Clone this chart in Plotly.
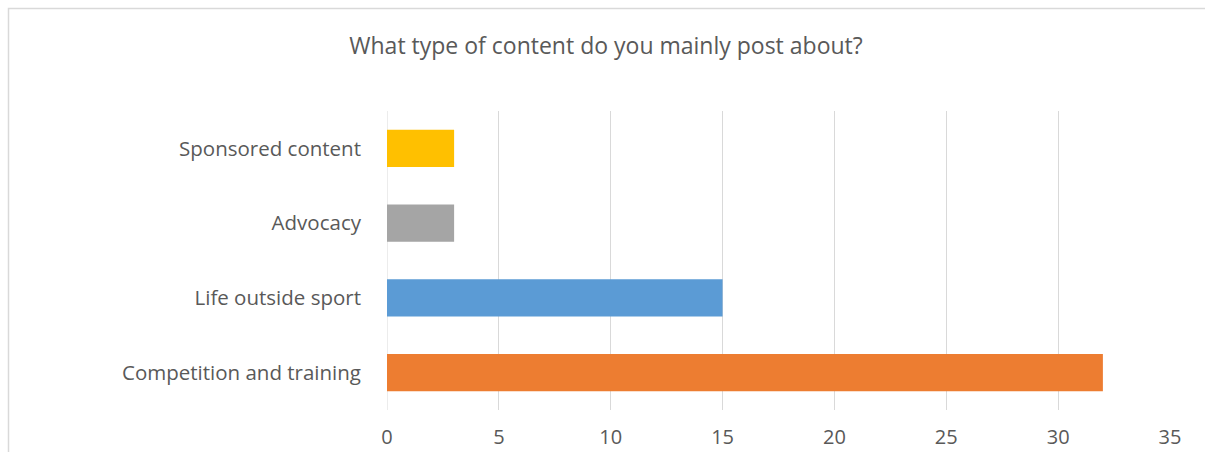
import plotly.graph_objects as go

categories = ["Competition and training", "Life outside sport", "Advocacy", "Sponsored content"]
values = [32, 15, 3, 3]
colors = ["#ED7D31", "#5B9BD5", "#A5A5A5", "#FFC000"]
x_ticks = [0, 5, 10, 15, 20, 25, 30, 35]
title_text = "What type of content do you mainly post about?"

W, H = 1205, 452
L, T = 387, 111
R = W - 1170
B = H - 410

fig = go.Figure(go.Bar(
    x=values, y=categories, orientation="h",
    marker=dict(color=colors, line=dict(width=0)),
    width=0.5,
))

font_family = "Open Sans, Liberation Sans, sans-serif"
fig.update_layout(
    width=W, height=H,
    margin=dict(l=L, r=R, t=T, b=B, pad=0, autoexpand=False),
    paper_bgcolor="white", plot_bgcolor="white",
    showlegend=False,
    font=dict(family=font_family, color="#595959", size=20),
    title=dict(text=title_text, x=606 / W, xanchor="center",
               y=1 - 46 / H, yanchor="middle",
               font=dict(size=23, color="#595959", family=font_family)),
    xaxis=dict(range=[0, 35], tickvals=x_ticks, showgrid=True, gridcolor="#D9D9D9",
               gridwidth=1, zeroline=False, showline=False,
               ticks="outside", ticklen=9, tickcolor="rgba(0,0,0,0)",
               tickfont=dict(size=20, color="#595959"), fixedrange=True),
    yaxis=dict(range=[-0.5, 3.5], showgrid=False, zeroline=False, showline=False,
               ticks="", ticklabelstandoff=25,
               tickfont=dict(size=20.5, color="#595959"), fixedrange=True),
)

fig.add_shape(type="line", xref="x", yref="paper", x0=0, x1=0, y0=0, y1=1,
              line=dict(color="#D9D9D9", width=1), layer="below")

# chart border (partially off-canvas)
pw, ph = W - L - R, H - T - B
def px_to_paper_x(px):
    return (px - L) / pw
def px_to_paper_y(py):
    return (H - B - py) / ph
fig.add_shape(type="rect", xref="paper", yref="paper",
              x0=px_to_paper_x(8.5), x1=px_to_paper_x(W + 20),
              y0=px_to_paper_y(H + 20), y1=px_to_paper_y(8.5),
              line=dict(color="#D9D9D9", width=1.5), fillcolor="rgba(0,0,0,0)",
              layer="below")

fig.write_html(
    "out.html",
    config={"displayModeBar": False, "staticPlot": True},
    post_script="document.documentElement.style.overflow='hidden';"
                "document.body.style.margin='0';document.body.style.overflow='hidden';",
)
